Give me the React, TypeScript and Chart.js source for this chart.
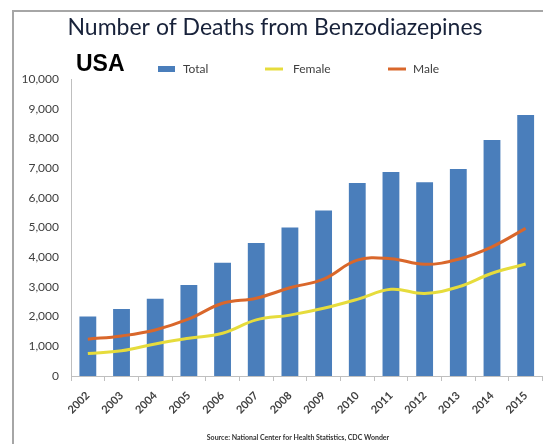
import React, { useEffect, useRef } from "react";
import { Chart, registerables } from "chart.js";

Chart.register(...registerables);

const TITLE = "Number of Deaths from Benzodiazepines";
const SUBTITLE = "USA";
const SOURCE = "Source: National Center for Health Statistics, CDC Wonder";

const years = ["2002", "2003", "2004", "2005", "2006", "2007", "2008", "2009", "2010", "2011", "2012", "2013", "2014", "2015"];
const total = [2007, 2260, 2600, 3060, 3810, 4480, 5000, 5570, 6497, 6872, 6524, 6973, 7945, 8791];
const female = [760, 850, 1080, 1270, 1440, 1890, 2050, 2280, 2580, 2920, 2780, 3000, 3460, 3770];
const male = [1240, 1350, 1550, 1920, 2450, 2620, 2970, 3260, 3900, 3950, 3760, 3930, 4350, 4970];

const BLUE = "#4a7ebb";
const YELLOW = "#e6dc3c";
const ORANGE = "#d9672b";
const TEXT = "#404040";

const textPlugin = {
  id: "textOverlay",
  afterDraw(chart: any) {
    const ctx = chart.ctx as CanvasRenderingContext2D;
    ctx.save();
    // title
    ctx.fillStyle = "#18223a";
    ctx.font = "23px Lato";
    ctx.textAlign = "center";
    ctx.textBaseline = "alphabetic";
    ctx.fillText(TITLE, 275, 35);
    // USA
    ctx.fillStyle = "#000000";
    ctx.font = "bold 23px 'Liberation Sans'";
    ctx.textAlign = "left";
    ctx.fillText(SUBTITLE, 76, 71);
    // legend
    ctx.font = "12px Lato";
    ctx.textBaseline = "middle";
    ctx.fillStyle = BLUE;
    ctx.fillRect(158, 66, 17, 6);
    ctx.fillStyle = TEXT;
    ctx.fillText("Total", 183, 69);
    ctx.strokeStyle = YELLOW;
    ctx.lineWidth = 3;
    ctx.beginPath();
    ctx.moveTo(265, 69);
    ctx.lineTo(283, 69);
    ctx.stroke();
    ctx.fillText("Female", 293, 69);
    ctx.strokeStyle = ORANGE;
    ctx.beginPath();
    ctx.moveTo(388, 69);
    ctx.lineTo(406, 69);
    ctx.stroke();
    ctx.fillText("Male", 413, 69);
    // source
    ctx.font = "bold 7px Lato";
    ctx.textAlign = "center";
    ctx.fillStyle = "#333333";
    ctx.fillText(SOURCE, 298, 438);
    ctx.restore();
  },
};

export default function App() {
  const ref = useRef<HTMLCanvasElement | null>(null);

  useEffect(() => {
    if (!ref.current) return;
    const chart = new Chart(ref.current, {
      type: "bar",
      data: {
        labels: years,
        datasets: [
          {
            type: "line",
            label: "Female",
            data: female,
            borderColor: YELLOW,
            borderWidth: 3,
            pointRadius: 0,
            tension: 0.4,
            fill: false,
            order: 1,
          },
          {
            type: "line",
            label: "Male",
            data: male,
            borderColor: ORANGE,
            borderWidth: 3,
            pointRadius: 0,
            tension: 0.4,
            fill: false,
            order: 2,
          },
          {
            type: "bar",
            label: "Total",
            data: total,
            backgroundColor: BLUE,
            borderWidth: 0,
            categoryPercentage: 1,
            barPercentage: 0.5,
            order: 3,
          },
        ],
      },
      options: {
        responsive: false,
        animation: false,
        devicePixelRatio: 1,
        layout: { padding: { top: 79, left: 0, right: 0, bottom: 0 } },
        plugins: {
          legend: { display: false },
          title: { display: false },
          tooltip: { enabled: false },
        },
        scales: {
          x: {
            offset: true,
            afterFit: (scale: any) => {
              scale.height = 68;
            },
            grid: {
              display: true,
              drawOnChartArea: false,
              drawTicks: true,
              tickLength: 5,
              offset: true,
              color: "#bfbfbf",
            },
            border: { display: true, color: "#bfbfbf", width: 1 },
            ticks: {
              minRotation: 45,
              maxRotation: 45,
              padding: 8,
              color: TEXT,
              font: { family: "Lato", size: 11, weight: "bold" },
            },
          },
          y: {
            min: 0,
            max: 10000,
            afterFit: (scale: any) => {
              scale.width = 71;
            },
            grid: { display: false, drawTicks: false },
            border: { display: true, color: "#bfbfbf", width: 1 },
            ticks: {
              stepSize: 1000,
              padding: 12,
              color: TEXT,
              font: { family: "Lato", size: 12 },
              callback: (v: any) => Number(v).toLocaleString("en-US"),
            },
          },
        },
      },
      plugins: [textPlugin],
    });
    return () => chart.destroy();
  }, []);

  return (
    <div style={{ position: "absolute", left: 0, top: 0, width: 543, height: 444, overflow: "hidden", background: "#ffffff" }}>
      <canvas ref={ref} width={543} height={444} style={{ position: "absolute", left: 0, top: 0 }} />
      <div
        style={{
          position: "absolute",
          left: 12,
          top: 10,
          width: 540,
          height: 440,
          borderLeft: "2px solid #a6a6a6",
          borderTop: "2px solid #a6a6a6",
          pointerEvents: "none",
        }}
      />
    </div>
  );
}
